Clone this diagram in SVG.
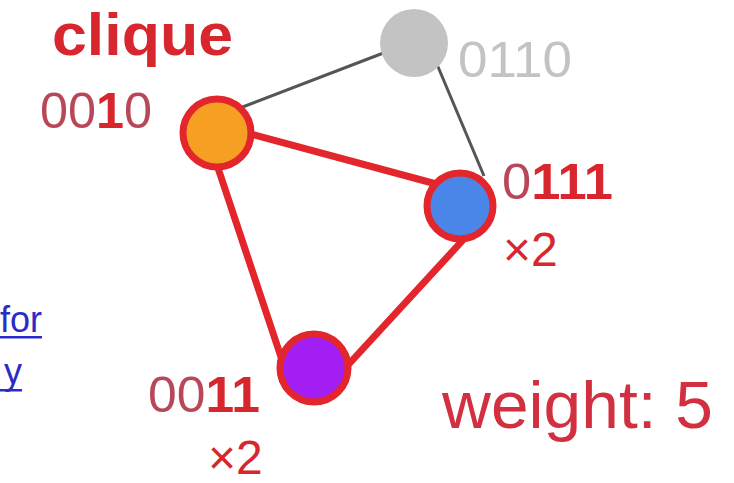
<svg xmlns="http://www.w3.org/2000/svg" width="734" height="483" viewBox="0 0 734 483">
<style>
.t{font-family:"Liberation Sans",Arial,sans-serif}
.m{fill:#b8475a}
.b{fill:#d8262e;font-weight:bold}
.red{fill:#d8262e}
.node{stroke:#e3262b;stroke-width:7}
.ge{stroke:#555555;stroke-width:3;fill:none}
.re{stroke:#e3262b;stroke-width:7;fill:none;stroke-linecap:round}
.lnk{fill:#2b2bc8;font-size:36px}
</style>
<rect width="734" height="483" fill="#ffffff"/>
<g id="left-text" class="t">
  <text class="lnk" x="0" y="332">for</text>
  <rect x="0" y="336" width="42" height="2.5" fill="#2b2bc8"/>
  <text class="lnk" x="22" y="384" text-anchor="end">y</text>
  <rect x="0" y="389" width="22" height="2.5" fill="#2b2bc8"/>
</g>
<text id="title" class="t" x="52" y="55" font-size="60" font-weight="bold" fill="#d8262e" textLength="181" lengthAdjust="spacingAndGlyphs">clique</text>
<g id="connectors">
  <line class="ge" x1="240" y1="108" x2="386" y2="52"/>
  <line class="ge" x1="436" y1="62" x2="484" y2="176"/>
  <line class="re" x1="240" y1="131" x2="440" y2="185"/>
  <line class="re" x1="212" y1="150" x2="282" y2="360"/>
  <line class="re" x1="463" y1="240" x2="348" y2="365"/>
</g>
<g id="n0010">
  <circle class="node" cx="217" cy="133" r="34" fill="#f6a023"/>
  <text class="t" x="40" y="128" font-size="50" textLength="112" lengthAdjust="spacingAndGlyphs"><tspan class="m">00</tspan><tspan class="b">1</tspan><tspan class="m">0</tspan></text>
</g>
<g id="n0110">
  <circle cx="414" cy="43" r="34" fill="#c3c3c3"/>
  <text class="t" x="458" y="77" font-size="50" fill="#c3c3c3" textLength="114" lengthAdjust="spacingAndGlyphs">0110</text>
</g>
<g id="n0111">
  <circle class="node" cx="460" cy="206" r="33" stroke-width="8" fill="#4a86e8"/>
  <text class="t" x="502" y="199" font-size="50" textLength="111" lengthAdjust="spacingAndGlyphs"><tspan class="m">0</tspan><tspan class="b">111</tspan></text>
  <text class="t red" x="503" y="266" font-size="48">×2</text>
</g>
<g id="n0011">
  <circle class="node" cx="314" cy="368" r="34" fill="#a21ef2"/>
  <text class="t" x="148" y="412" font-size="50" textLength="112" lengthAdjust="spacingAndGlyphs"><tspan class="m">00</tspan><tspan class="b">11</tspan></text>
  <text class="t red" x="208" y="474" font-size="48">×2</text>
</g>
<text id="weight" class="t" x="442" y="428" font-size="66" fill="#d23040" textLength="271" lengthAdjust="spacingAndGlyphs">weight: 5</text>
</svg>
